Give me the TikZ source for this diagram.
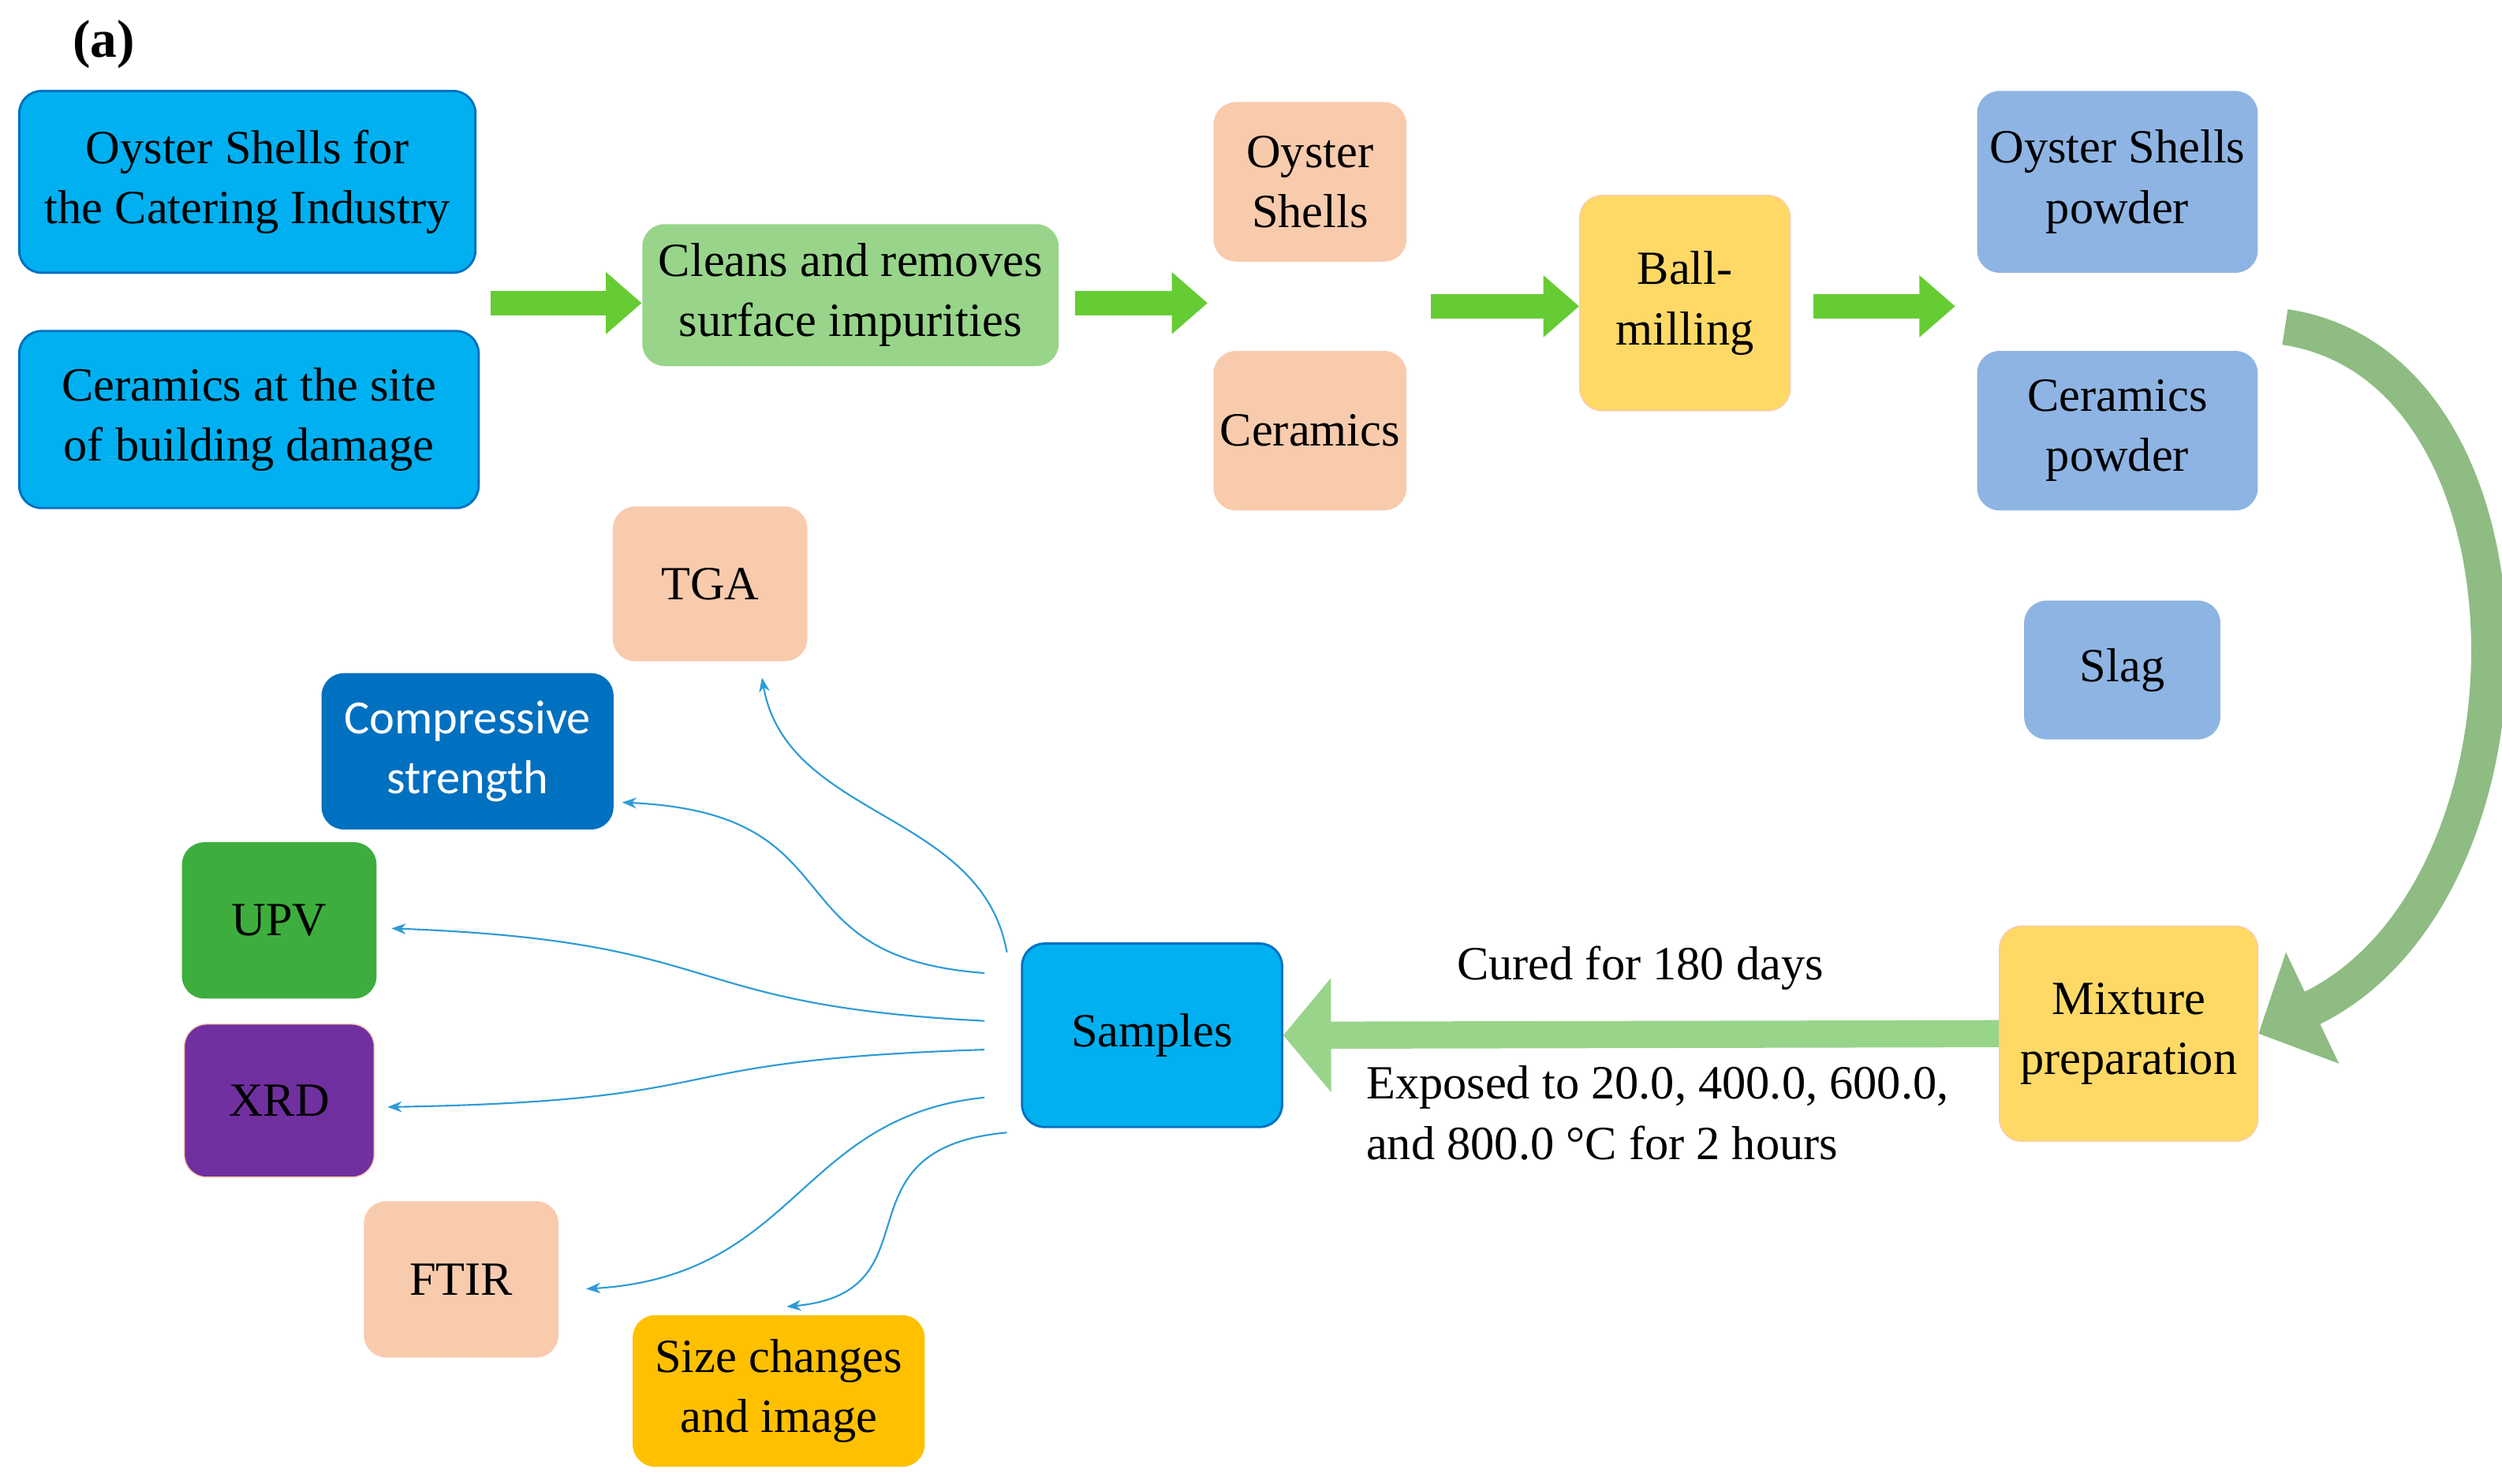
\documentclass[tikz,border=0pt]{standalone}
\usepackage{fontspec}
\setmainfont{Liberation Serif}
\newfontfamily\calib{Carlito}
\usetikzlibrary{positioning,arrows.meta}
\definecolor{cyanbox}{HTML}{00B0F0}
\definecolor{peach}{HTML}{F8CBAD}
\definecolor{lgreen}{HTML}{98D48A}
\definecolor{gold}{HTML}{FFD966}
\definecolor{lblue}{HTML}{8EB4E3}
\definecolor{dblue}{HTML}{0070C0}
\definecolor{upvgreen}{HTML}{3DAE3D}
\definecolor{purp}{HTML}{7030A0}
\definecolor{orng}{HTML}{FFC000}
\definecolor{arrgreen}{HTML}{66CC33}
\definecolor{arrlight}{HTML}{98D48A}
\definecolor{thinblue}{HTML}{2E9BD6}
\begin{document}
\begin{tikzpicture}[x=0.02cm,y=-0.02cm,
    box/.style={rounded corners=0.28cm, align=center, inner sep=2pt,
      font=\fontsize{17}{21.5}\selectfont},
    flow/.style={-{Triangle[length=0.45cm,width=0.75cm]}, line width=0.3cm, arrgreen},
    probe/.style={-{Stealth[length=0.18cm]}, thinblue, line width=0.6pt}
  ]
  \useasboundingbox (0,0) rectangle (1568,930);
  % title
  \node[font=\fontsize{19}{22}\selectfont\bfseries] (lab) at (65,28) {(a)};
  % raw materials
  \node[box, fill=cyanbox, draw=dblue, thick, minimum width=5.72cm, minimum height=2.28cm] (oyster) at (155,114) {Oyster Shells for\\the Catering Industry};
  \node[box, fill=cyanbox, draw=dblue, thick, minimum width=5.76cm, minimum height=2.22cm] (ceram) at (156,263) {Ceramics at the site\\of building damage};
  \node[box, fill=lgreen, minimum width=5.22cm, minimum height=1.78cm] (clean) at (533,185) {Cleans and removes\\surface impurities};
  \node[box, fill=peach, minimum width=2.42cm, minimum height=2cm] (shell) at (821,114) {Oyster\\Shells};
  \node[box, fill=peach, minimum width=2.42cm, minimum height=2cm] (cer) at (821,270) {Ceramics};
  \node[box, fill=gold, draw=peach, minimum width=2.64cm, minimum height=2.7cm] (ball) at (1056,190) {Ball-\\milling};
  \node[box, fill=lblue, minimum width=3.52cm, minimum height=2.28cm] (spow) at (1327,114) {Oyster Shells\\powder};
  \node[box, fill=lblue, minimum width=3.52cm, minimum height=2cm] (cpow) at (1327,270) {Ceramics\\powder};
  \node[box, fill=lblue, minimum width=2.46cm, minimum height=1.74cm] (slag) at (1330,420) {Slag};
  \node[box, fill=gold, draw=peach, minimum width=3.24cm, minimum height=2.7cm] (mix) at (1334,648) {Mixture\\preparation};
  \node[box, fill=cyanbox, draw=dblue, thick, minimum width=3.26cm, minimum height=2.3cm] (samp) at (722,649) {Samples};
  % tests
  \node[box, fill=peach, minimum width=2.44cm, minimum height=1.94cm] (tga) at (445,366) {TGA};
  \node[box, fill=dblue, text=white, minimum width=3.66cm, minimum height=1.96cm, font=\calib\fontsize{17}{21.5}\selectfont] (comp) at (293,471) {Compressive\\strength};
  \node[box, fill=upvgreen, minimum width=2.44cm, minimum height=1.96cm] (upv) at (175,577) {UPV};
  \node[box, fill=purp, draw=peach, minimum width=2.38cm, minimum height=1.92cm] (xrd) at (175,690) {XRD};
  \node[box, fill=peach, minimum width=2.44cm, minimum height=1.96cm] (ftir) at (289,802) {FTIR};
  \node[box, fill=orng, minimum width=3.66cm, minimum height=1.9cm] (size) at (488,872) {Size changes\\and image};
  % process arrows
  \draw[flow] (oyster.east |- clean.west) ++(9,5) coordinate (a1) -- (clean.west |- a1);
  \draw[flow] ([xshift=0.2cm,yshift=-0.1cm]clean.east) -- ++(83,0);
  \draw[flow] ([xshift=0.3cm]cer.north east |- ball.west) ++(0,2) coordinate (a3) -- (ball.west |- a3);
  \draw[flow] ([xshift=0.28cm,yshift=-0.04cm]ball.east) -- ++(89,0);
  \draw[-{Triangle[length=0.6cm,width=1.4cm]}, line width=0.34cm, arrlight] (mix.west) -- (samp.east);
  \draw[-{Triangle[length=0.75cm,width=1.5cm]}, line width=0.45cm, arrlight!85!black!90]
    (1432,205) .. controls (1600,230) and (1600,560) .. (mix.east);
  \node[font=\fontsize{17}{21.5}\selectfont] (cured) at (1028,607) {Cured for 180 days};
  \node[font=\fontsize{17}{21.5}\selectfont, align=left, anchor=north west] (expo) at (850,662) {Exposed to 20.0, 400.0, 600.0,\\and 800.0 °C for 2 hours};
  % characterisation arrows
  \coordinate (s1) at (631,597);
  \coordinate (s2) at (617,610);
  \coordinate (s3) at (617,640);
  \coordinate (s4) at (617,658);
  \coordinate (s5) at (617,688);
  \coordinate (s6) at (631,710);
  \draw[probe] (s1) to[out=100,in=-80] ([xshift=0.65cm,yshift=-0.2cm]tga.south);
  \draw[probe] (s2) .. controls (480,600) and (540,510) .. ([xshift=0.1cm]comp.east |- 0,503);
  \draw[probe] (s3) .. controls (420,630) and (460,590) .. ([xshift=0.18cm]upv.east |- 0,582);
  \draw[probe] (s4) .. controls (400,665) and (470,690) .. ([xshift=0.16cm]xrd.east |- 0,694);
  \draw[probe] (s5) .. controls (500,700) and (500,800) .. ([xshift=0.34cm]ftir.east |- 0,808);
  \draw[probe] (s6) .. controls (520,720) and (590,810) .. ([xshift=0.1cm,yshift=0.1cm]size.north);
\end{tikzpicture}
\end{document}
